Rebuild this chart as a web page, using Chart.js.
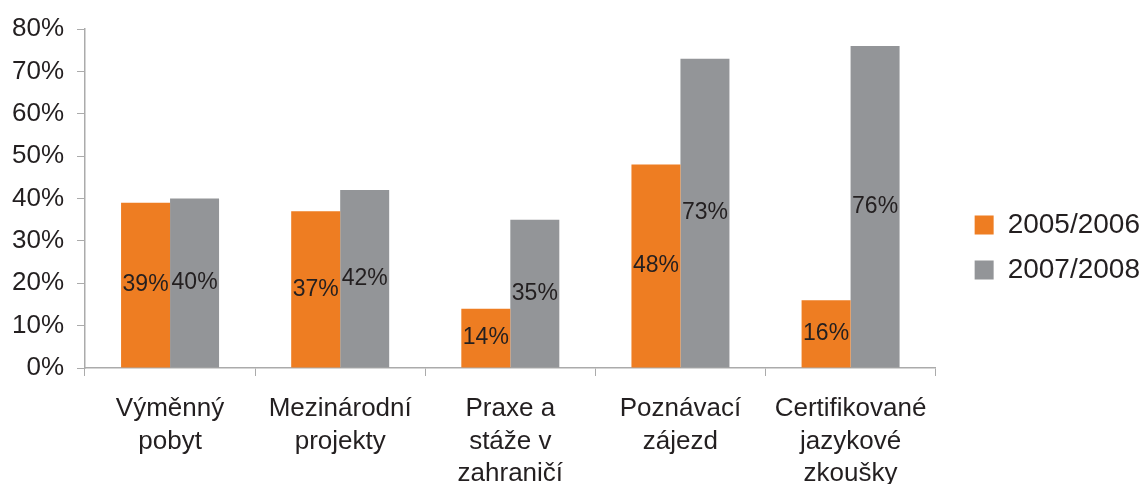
<!DOCTYPE html>
<html>
<head>
<meta charset="utf-8">
<script src="https://cdn.jsdelivr.net/npm/chart.js@4/dist/chart.umd.min.js"></script>
<style>
  html, body { margin: 0; padding: 0; background: #fff; }
  #wrap { width: 1143px; height: 484px; }
</style>
</head>
<body>
<div id="wrap"><canvas id="chart"></canvas></div>
<script>
var categories = [
    ['Výměnný', 'pobyt'],
    ['Mezinárodní', 'projekty'],
    ['Praxe a', 'stáže v', 'zahraničí'],
    ['Poznávací', 'zájezd'],
    ['Certifikované', 'jazykové', 'zkoušky']
];
var seriesNames = ['2005/2006', '2007/2008'];
var values0506 = [39, 37, 14, 48, 16];
var values0708 = [40, 42, 35, 73, 76];
var yTicks = [0, 10, 20, 30, 40, 50, 60, 70, 80];

var textColor = '#231f20';
var axisColor = '#ababab';
var font = "'Liberation Sans', Arial, sans-serif";

// labels in the middle of each bar
var barLabels = {
    id: 'barLabels',
    afterDatasetsDraw: function (chart) {
        var c = chart.ctx;
        c.save();
        c.font = '23px ' + font;
        c.fillStyle = textColor;
        c.textAlign = 'center';
        c.textBaseline = 'middle';
        chart.data.datasets.forEach(function (ds, i) {
            chart.getDatasetMeta(i).data.forEach(function (bar, j) {
                c.fillText(ds.data[j] + '%', bar.x, (bar.y + bar.base) / 2);
            });
        });
        c.restore();
    }
};

// nudge the legend block a bit right and up
var legendShift = {
    id: 'legendShift',
    afterLayout: function (chart) {
        var lg = chart.legend;
        lg.left += 22;
        lg.right += 22;
        lg.top -= 9;
        lg.bottom -= 9;
    }
};

var ctx = document.getElementById('chart').getContext('2d');
var chart = new Chart(ctx, {
    type: 'bar',
    data: {
        labels: categories,
        datasets: [{
            label: seriesNames[0],
            data: values0506,
            backgroundColor: '#ee7d22',
            categoryPercentage: 0.576,
            barPercentage: 1
        }, {
            label: seriesNames[1],
            data: values0708,
            backgroundColor: '#939598',
            categoryPercentage: 0.576,
            barPercentage: 1
        }]
    },
    options: {
        responsive: true,
        maintainAspectRatio: false,
        animation: false,
        layout: { padding: { top: 29, right: 15, left: 0, bottom: 0 } },
        plugins: {
            legend: {
                position: 'right',
                labels: {
                    boxWidth: 19,
                    boxHeight: 19,
                    padding: 17,
                    color: textColor,
                    font: { size: 28, family: font }
                }
            },
            tooltip: { enabled: false }
        },
        scales: {
            x: {
                grid: {
                    offset: true,
                    drawOnChartArea: false,
                    tickLength: 8,
                    color: axisColor
                },
                border: { color: axisColor, width: 1.5 },
                ticks: {
                    color: textColor,
                    font: { size: 26, family: font, lineHeight: 1.25 },
                    padding: 17,
                    maxRotation: 0,
                    autoSkip: false
                },
                afterFit: function (s) { s.height = 116; }
            },
            y: {
                min: 0,
                max: 80,
                afterBuildTicks: function (s) {
                    s.ticks = yTicks.map(function (v) { return { value: v }; });
                },
                grid: {
                    drawOnChartArea: false,
                    tickLength: 8,
                    color: axisColor
                },
                border: { color: axisColor, width: 1.5 },
                ticks: {
                    color: textColor,
                    font: { size: 26, family: font },
                    padding: 13,
                    callback: function (v) { return v + '%'; }
                },
                afterFit: function (s) { s.width = 85; }
            }
        }
    },
    plugins: [barLabels, legendShift]
});
</script>
</body>
</html>
